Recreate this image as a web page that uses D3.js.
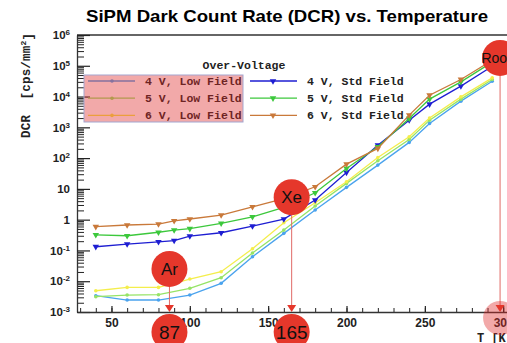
<!DOCTYPE html>
<html>
<head>
<meta charset="utf-8">
<script src="https://cdn.jsdelivr.net/npm/d3@7"></script>
<style>
body { margin: 0; background: #fff; overflow: hidden; }
</style>
</head>
<body>
<div id="chart"></div>
<script>
// DATA
const tempsStd = [40, 60, 80, 90, 100, 120, 140, 160, 180, 200, 220, 240, 253, 273, 293];
const tempsLow = [40, 60, 80, 100, 120, 140, 160, 180, 200, 220, 240, 253, 273, 293];

const std4V = [0.132, 0.161, 0.19, 0.21, 0.294, 0.376, 0.62, 1.05, 4.33, 34.3, 264, 1713, 5660, 21800, 97000];
const std5V = [0.32, 0.30, 0.39, 0.46, 0.51, 0.76, 1.24, 2.49, 7.47, 46.3, 233, 1945, 8240, 30000, 131000];
const std6V = [0.59, 0.67, 0.72, 0.92, 1.05, 1.41, 2.6, 4.84, 11.7, 63.8, 206, 2490, 11100, 35900, 152000];

const low4V = [0.00338, 0.00245, 0.00245, 0.00356, 0.00855, 0.0624, 0.359, 2.05, 11.2, 59.3, 324, 1340, 7100, 31600];
const low5V = [0.00314, 0.00356, 0.00365, 0.00588, 0.013, 0.0824, 0.459, 2.77, 15.1, 81.7, 405, 1713, 8240, 35900];
const low6V = [0.0049, 0.0063, 0.0063, 0.0118, 0.0203, 0.114, 0.79, 3.54, 17.0, 105, 492, 2020, 9770, 40500];

const seriesNames = ["4 V, Low Field", "5 V, Low Field", "6 V, Low Field", "4 V, Std Field", "5 V, Std Field", "6 V, Std Field"];

const xTicks = [50, 100, 150, 200, 250, 300];
const yTicks = [1e-3, 1e-2, 1e-1, 1, 10, 1e2, 1e3, 1e4, 1e5, 1e6];
const yTickLabels = [["10", "-3"], ["10", "-2"], ["10", "-1"], ["1", ""], ["10", ""], ["10", "2"], ["10", "3"], ["10", "4"], ["10", "5"], ["10", "6"]];

// annotations: name, temperature, level of the name bubble
const markNames = ["Ar", "Xe", "Room"];
const markTemps = [87, 165, 298];
const markLevels = [0.025, 5.4, 1.8e5];
const markTempLabels = ["87", "165", ""];

// DIMENSIONS
const W = 507, H = 343;
const plotLeft = 77, plotTop = 35, plotBottom = 312;

let svg = d3.select('#chart')
  .append('svg')
  .attr('width', W)
  .attr('height', H)
  .style('font-family', 'Liberation Sans, Arial, sans-serif');

let x = d3.scaleLinear().domain([28, 306]).range([plotLeft, 512.6]);
let y = d3.scaleLog().domain([1e-3, 1e6]).range([plotBottom, plotTop]);

const colLow = ['#4aa3ee', '#96e466', '#f4ee4c'];
const colStd = ['#1e1ed2', '#3cc83c', '#c9793a'];
const overlay = 'rgba(222, 40, 40, 0.4)';
const markRed = '#e5372b';

// title
svg.append('text')
  .attr('x', 287).attr('y', 22)
  .attr('text-anchor', 'middle')
  .attr('textLength', 402).attr('lengthAdjust', 'spacingAndGlyphs')
  .style('font-size', '17px').style('font-weight', 'bold')
  .text('SiPM Dark Count Rate (DCR) vs. Temperature');

// frame top
svg.append('line')
  .attr('x1', plotLeft).attr('x2', W).attr('y1', plotTop).attr('y2', plotTop)
  .attr('stroke', '#333').attr('stroke-width', 1.3);

// minor y ticks
let minors = [];
for (let e = -3; e < 6; e++) for (let k = 2; k < 10; k++) minors.push(k * Math.pow(10, e));
svg.append('g')
  .attr('transform', `translate(${plotLeft},0)`)
  .call(d3.axisLeft(y).tickValues(minors).tickSizeInner(-7).tickSizeOuter(0).tickFormat(''))
  .call(g => g.select('.domain').remove())
  .call(g => g.selectAll('line').attr('stroke', '#222'));

// major y ticks
let yAxis = svg.append('g')
  .attr('transform', `translate(${plotLeft},0)`)
  .call(d3.axisLeft(y).tickValues(yTicks).tickSizeInner(-13).tickSizeOuter(0).tickPadding(7).tickFormat(''));
yAxis.select('.domain').attr('stroke', '#333').attr('stroke-width', 1.3);
yAxis.selectAll('line').attr('stroke', '#222').attr('stroke-width', 1.2);
yAxis.selectAll('.tick text')
  .style('font-size', '11.5px').style('font-weight', 'bold').attr('fill', '#222')
  .each(function (d, i) {
    let t = d3.select(this);
    t.append('tspan').text(yTickLabels[i][0]);
    if (yTickLabels[i][1]) t.append('tspan').attr('dy', '-0.5em').style('font-size', '8px').text(yTickLabels[i][1]);
  });

// x ticks
svg.append('g')
  .attr('transform', `translate(0,${plotBottom})`)
  .call(d3.axisBottom(x).tickValues(d3.range(30, 301, 10)).tickSizeInner(-4).tickSizeOuter(0).tickFormat(''))
  .call(g => g.select('.domain').remove())
  .call(g => g.selectAll('line').attr('stroke', '#222'));

let xAxis = svg.append('g')
  .attr('transform', `translate(0,${plotBottom})`)
  .call(d3.axisBottom(x).tickValues(xTicks).tickSizeInner(-6).tickSizeOuter(0).tickPadding(6));
xAxis.select('.domain').attr('stroke', '#333').attr('stroke-width', 1.3);
xAxis.selectAll('line').attr('stroke', '#222').attr('stroke-width', 1.2);
xAxis.selectAll('text')
  .style('font-size', '12px').style('font-weight', 'bold').style('font-family', 'Liberation Sans, Arial, sans-serif').attr('fill', '#222');

// axis titles
let yTitle = svg.append('text')
  .attr('transform', 'translate(30,138) rotate(-90)')
  .attr('textLength', 105).attr('lengthAdjust', 'spacing')
  .style('font-family', 'Liberation Mono, monospace').style('font-size', '12.5px').style('font-weight', 'bold')
  .attr('fill', '#222');
yTitle.append('tspan').text('DCR\u00a0\u00a0[cps/mm');
yTitle.append('tspan').attr('dy', '-0.45em').style('font-size', '8px').text('2');
yTitle.append('tspan').attr('dy', '0.45em').text(']');

svg.append('text')
  .attr('x', 477).attr('y', 342)
  .style('font-family', 'Liberation Mono, monospace').style('font-size', '12px').style('font-weight', 'bold')
  .attr('fill', '#222')
  .text('T [K]');

// series
let line = d3.line().x(d => x(d[0])).y(d => y(d[1]));
let lowData = [low4V, low5V, low6V].map(s => s.map((v, i) => [tempsLow[i], v]));
let stdData = [std4V, std5V, std6V].map(s => s.map((v, i) => [tempsStd[i], v]));
let tri = d3.symbol().type(d3.symbolTriangle).size(18);

lowData.forEach((s, k) => {
  svg.append('path').datum(s)
    .attr('d', line).attr('fill', 'none')
    .attr('stroke', colLow[k]).attr('stroke-width', 1.3);
  svg.append('g').selectAll('circle').data(s).enter().append('circle')
    .attr('cx', d => x(d[0])).attr('cy', d => y(d[1])).attr('r', 1.8)
    .attr('fill', colLow[k]);
});
stdData.forEach((s, k) => {
  svg.append('path').datum(s)
    .attr('d', line).attr('fill', 'none')
    .attr('stroke', colStd[k]).attr('stroke-width', 1.3);
  svg.append('g').selectAll('path').data(s).enter().append('path')
    .attr('d', tri)
    .attr('transform', d => `translate(${x(d[0])},${y(d[1])}) rotate(180)`)
    .attr('fill', colStd[k]);
});

// legend
svg.append('text')
  .attr('x', 244).attr('y', 69).attr('text-anchor', 'middle')
  .style('font-family', 'Liberation Mono, monospace').style('font-size', '11.5px').style('font-weight', 'bold')
  .attr('fill', '#222')
  .text('Over-Voltage');

seriesNames.forEach((name, i) => {
  let col = Math.floor(i / 3), row = i % 3;
  let lx = col === 0 ? 88 : 250;
  let ly = 81 + row * 17.2;
  let c = col === 0 ? colLow[row] : colStd[row];
  let g = svg.append('g');
  g.append('line').attr('x1', lx).attr('x2', lx + 47).attr('y1', ly).attr('y2', ly)
    .attr('stroke', c).attr('stroke-width', 1.3);
  if (col === 0) g.append('circle').attr('cx', lx + 24).attr('cy', ly).attr('r', 1.8).attr('fill', c);
  else g.append('path').attr('d', tri).attr('transform', `translate(${lx + 23},${ly}) rotate(180)`).attr('fill', c);
  g.append('text')
    .attr('x', lx + 57).attr('y', ly + 4)
    .style('font-family', 'Liberation Mono, monospace').style('font-size', '11.5px').style('font-weight', 'bold')
    .attr('fill', '#222')
    .text(name);
});

// highlight over low field entries
svg.append('rect')
  .attr('x', 84).attr('y', 75).attr('width', 159).attr('height', 47)
  .attr('fill', overlay).attr('stroke', '#a3a6cf').attr('stroke-width', 1);

// annotations
markNames.forEach((name, i) => {
  let mx = x(markTemps[i]);
  let my = y(markLevels[i]);
  svg.append('line')
    .attr('x1', mx).attr('x2', mx).attr('y1', my + 18).attr('y2', plotBottom - 6)
    .attr('stroke', '#e06a66').attr('stroke-width', 1);
  if (markTempLabels[i]) {
    svg.append('circle').attr('cx', mx).attr('cy', 332).attr('r', 18).attr('fill', markRed);
    svg.append('text').attr('x', mx).attr('y', 339).attr('text-anchor', 'middle')
      .style('font-size', '19px').attr('fill', '#111').text(markTempLabels[i]);
  } else {
    svg.append('circle').attr('cx', mx).attr('cy', 318).attr('r', 17).attr('fill', overlay);
  }
  svg.append('path')
    .attr('d', `M${mx - 4.5},${plotBottom - 7}L${mx + 4.5},${plotBottom - 7}L${mx},${plotBottom}Z`)
    .attr('fill', markRed);
  svg.append('circle').attr('cx', mx).attr('cy', my).attr('r', 18).attr('fill', markRed);
  svg.append('text').attr('x', mx).attr('y', my + (name === 'Room' ? 5 : 6)).attr('text-anchor', 'middle')
    .style('font-size', name === 'Room' ? '14px' : '17px').attr('fill', '#111').text(name);
});
</script>
</body>
</html>
